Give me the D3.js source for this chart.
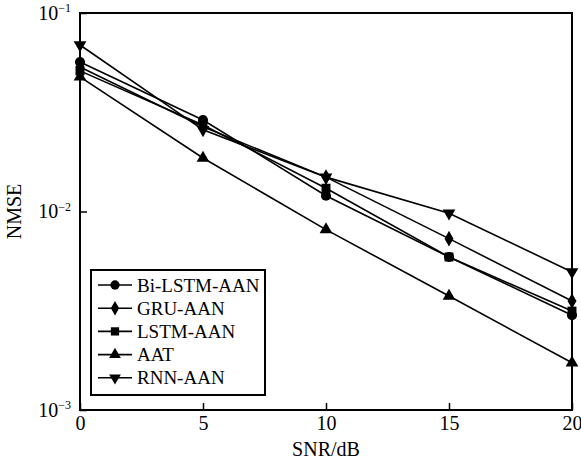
<!DOCTYPE html>
<html>
<head>
<meta charset="utf-8">
<script src="https://cdn.jsdelivr.net/npm/d3@7"></script>
<style>
  body { margin: 0; background: #fff; }
  text { font-family: "Liberation Serif", "Times New Roman", serif; fill: #000; }
</style>
</head>
<body>
<svg id="chart" width="581" height="460"></svg>
<script>
// data
const snr = [0, 5, 10, 15, 20];
const biLstm = [0.0566, 0.0289, 0.0120, 0.0059, 0.0030];
const gru    = [0.0534, 0.0267, 0.0149, 0.0073, 0.00354];
const lstm   = [0.0511, 0.0273, 0.0131, 0.0059, 0.00315];
const aat    = [0.0477, 0.0186, 0.0081, 0.00375, 0.00173];
const rnn    = [0.0690, 0.0258, 0.0149, 0.0098, 0.00496];
const seriesNames = ['Bi-LSTM-AAN', 'GRU-AAN', 'LSTM-AAN', 'AAT', 'RNN-AAN'];
const xTicks = [0, 5, 10, 15, 20];
const yTicks = [1e-3, 1e-2, 1e-1];

const series = [biLstm, gru, lstm, aat, rnn];
const shapes = [
  {type: d3.symbolCircle, size: 80, rot: 0},
  {type: d3.symbolDiamond, size: 70, rot: 0},
  {type: d3.symbolSquare, size: 80, rot: 0},
  {type: d3.symbolTriangle, size: 70, rot: 0},
  {type: d3.symbolTriangle, size: 70, rot: 180},
];

const svg = d3.select('#chart');
const m = {left: 80, top: 13, right: 572, bottom: 410};

const x = d3.scaleLinear().domain([0, 20]).range([m.left, m.right]);
const y = d3.scaleLog().domain([1e-3, 1e-1]).range([m.bottom, m.top]);

// frame
svg.append('rect')
  .attr('x', m.left).attr('y', m.top)
  .attr('width', m.right - m.left).attr('height', m.bottom - m.top)
  .attr('fill', 'none').attr('stroke', '#000').attr('stroke-width', 2);

// bottom axis, ticks inward
const gx = svg.append('g')
  .attr('transform', `translate(0,${m.bottom})`)
  .call(d3.axisBottom(x).tickValues(xTicks).tickSize(-7).tickPadding(6).tickFormat(d3.format('d')));
gx.select('.domain').remove();
gx.selectAll('line').attr('stroke-width', 1.5);
gx.selectAll('text').attr('font-size', 20).style('font-family', '"Liberation Serif", serif');

// left axis with 10^n labels
const gy = svg.append('g')
  .attr('transform', `translate(${m.left},0)`)
  .call(d3.axisLeft(y).tickValues(yTicks).tickSize(-7).tickPadding(10).tickFormat(''));
gy.select('.domain').remove();
gy.selectAll('line').attr('stroke-width', 1.5);
gy.selectAll('.tick').each(function(d) {
  const t = d3.select(this).select('text')
    .attr('x', -9).attr('dy', '0.3em').attr('font-size', 20)
    .style('font-family', '"Liberation Serif", serif');
  t.append('tspan').text('10');
  t.append('tspan').attr('font-size', 12).attr('dy', '-0.6em')
    .text('\u2212' + Math.round(-Math.log10(d)));
});

// axis titles
svg.append('text')
  .attr('x', (m.left + m.right) / 2).attr('y', 456)
  .attr('text-anchor', 'middle').attr('font-size', 20)
  .text('SNR/dB');
svg.append('text')
  .attr('transform', `translate(21,${(m.top + m.bottom) / 2}) rotate(-90)`)
  .attr('text-anchor', 'middle').attr('font-size', 20)
  .text('NMSE');

// lines and markers
const line = d3.line().x((d, i) => x(snr[i])).y(d => y(d));

series.forEach((s, k) => {
  svg.append('path')
    .datum(s)
    .attr('d', line)
    .attr('fill', 'none')
    .attr('stroke', '#000')
    .attr('stroke-width', 1.6);
  svg.append('g').selectAll('path')
    .data(s)
    .enter()
    .append('path')
    .attr('d', d3.symbol().type(shapes[k].type).size(shapes[k].size))
    .attr('transform', (d, i) => `translate(${x(snr[i])},${y(d)}) rotate(${shapes[k].rot})`)
    .attr('fill', '#000');
});

// legend
const lg = svg.append('g');
lg.append('rect')
  .attr('x', 91).attr('y', 270).attr('width', 174).attr('height', 125)
  .attr('fill', '#fff').attr('stroke', '#000').attr('stroke-width', 2);

seriesNames.forEach((name, k) => {
  const ly = 285 + k * 23.2;
  lg.append('line')
    .attr('x1', 98).attr('x2', 132).attr('y1', ly).attr('y2', ly)
    .attr('stroke', '#000').attr('stroke-width', 1.6);
  lg.append('path')
    .attr('d', d3.symbol().type(shapes[k].type).size(shapes[k].size * 0.85))
    .attr('transform', `translate(115,${ly}) rotate(${shapes[k].rot})`)
    .attr('fill', '#000');
  lg.append('text')
    .attr('x', 137).attr('y', ly).attr('dy', '0.35em')
    .attr('font-size', 19)
    .text(name);
});
</script>
</body>
</html>
